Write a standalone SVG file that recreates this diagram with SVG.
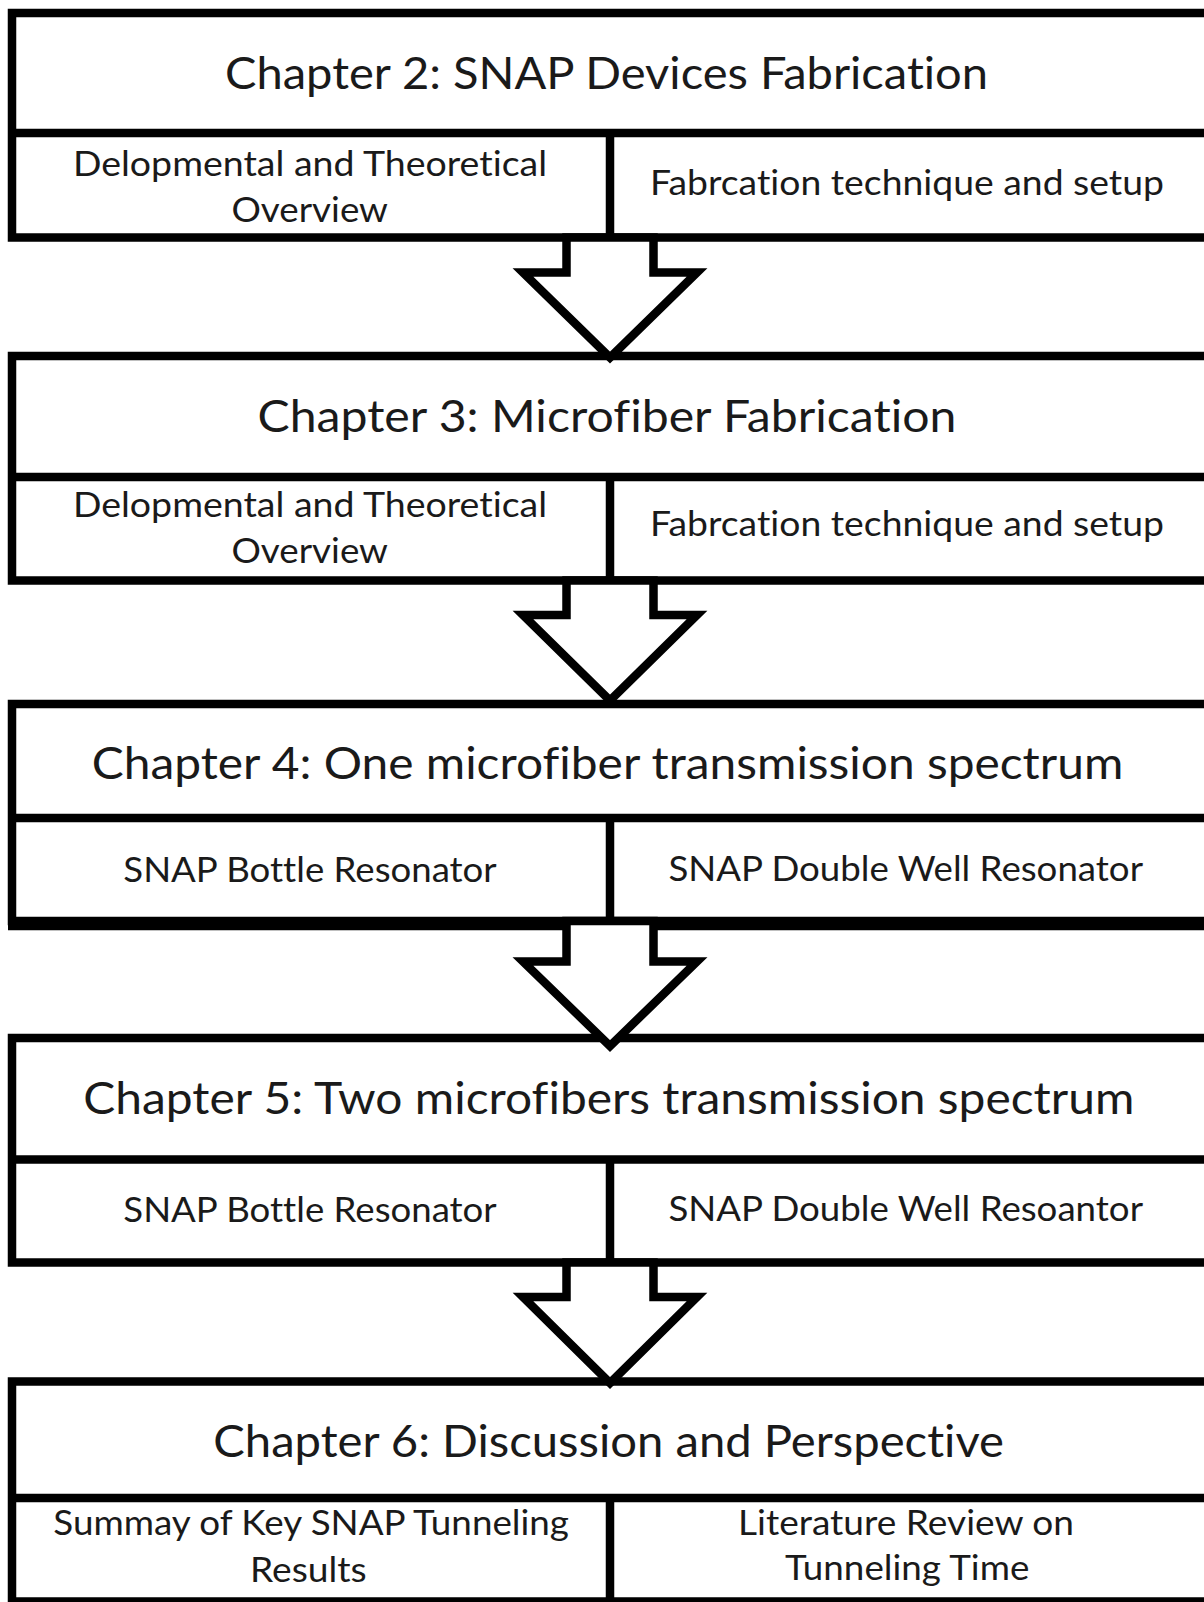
<svg xmlns="http://www.w3.org/2000/svg" width="1204" height="1602" viewBox="0 0 1204 1602">
  <style>
    .box { fill: #ffffff; stroke: #000000; stroke-width: 8.5; }
    .rule { stroke: #000000; stroke-width: 8.5; fill: none; }
    text { font-family: Lato, "Liberation Sans", sans-serif; font-variant-ligatures: none; fill: #1a1a1a; }
    .title { font-size: 45px; }
    .sub { font-size: 34px; }
    .arrow { fill: #ffffff; stroke: #000000; stroke-width: 8.5; stroke-linejoin: miter; stroke-miterlimit: 10; }
  </style>
  <rect width="1204" height="1602" fill="#ffffff"/>

  <!-- Chapter 2 -->
  <g id="chapter2">
    <rect class="box" x="12" y="13" width="1200" height="224.5"/>
    <line class="rule" x1="8" y1="133" x2="1212" y2="133"/>
    <line class="rule" x1="610" y1="133" x2="610" y2="237.5"/>
    <text class="title" x="225" y="88.5" textLength="763" lengthAdjust="spacingAndGlyphs">Chapter 2: SNAP Devices Fabrication</text>
    <text class="sub" x="73" y="175.7" textLength="474" lengthAdjust="spacingAndGlyphs">Delopmental and Theoretical</text>
    <text class="sub" x="231.5" y="221.7" textLength="156.5" lengthAdjust="spacingAndGlyphs">Overview</text>
    <text class="sub" x="650" y="195" textLength="514" lengthAdjust="spacingAndGlyphs">Fabrcation technique and setup</text>
  </g>

  <!-- Chapter 3 -->
  <g id="chapter3">
    <rect class="box" x="12" y="356" width="1200" height="224.5"/>
    <line class="rule" x1="8" y1="477" x2="1212" y2="477"/>
    <line class="rule" x1="610" y1="477" x2="610" y2="580.5"/>
    <text class="title" x="257.5" y="431.5" textLength="699" lengthAdjust="spacingAndGlyphs">Chapter 3: Microfiber Fabrication</text>
    <text class="sub" x="73" y="516.5" textLength="474" lengthAdjust="spacingAndGlyphs">Delopmental and Theoretical</text>
    <text class="sub" x="231.5" y="562.5" textLength="156.5" lengthAdjust="spacingAndGlyphs">Overview</text>
    <text class="sub" x="650" y="535.5" textLength="514" lengthAdjust="spacingAndGlyphs">Fabrcation technique and setup</text>
  </g>

  <!-- Chapter 4 (heavier bottom edge) -->
  <g id="chapter4">
    <rect class="box" x="12" y="704" width="1200" height="217"/>
    <line class="rule" x1="8" y1="926" x2="1212" y2="926"/>
    <line class="rule" x1="8" y1="818" x2="1212" y2="818"/>
    <line class="rule" x1="610" y1="818" x2="610" y2="921"/>
    <text class="title" x="91.7" y="779" textLength="1031.6" lengthAdjust="spacingAndGlyphs">Chapter 4: One microfiber transmission spectrum</text>
    <text class="sub" x="123.3" y="881.5" textLength="373.4" lengthAdjust="spacingAndGlyphs">SNAP Bottle Resonator</text>
    <text class="sub" x="668.4" y="880.5" textLength="474.6" lengthAdjust="spacingAndGlyphs">SNAP Double Well Resonator</text>
  </g>

  <!-- Chapter 5 -->
  <g id="chapter5">
    <rect class="box" x="12" y="1038" width="1200" height="224.5"/>
    <line class="rule" x1="8" y1="1159.5" x2="1212" y2="1159.5"/>
    <line class="rule" x1="610" y1="1159.5" x2="610" y2="1262.5"/>
    <text class="title" x="83.3" y="1113.5" textLength="1051" lengthAdjust="spacingAndGlyphs">Chapter 5: Two microfibers transmission spectrum</text>
    <text class="sub" x="123.3" y="1221.5" textLength="373.4" lengthAdjust="spacingAndGlyphs">SNAP Bottle Resonator</text>
    <text class="sub" x="668.4" y="1221" textLength="474.6" lengthAdjust="spacingAndGlyphs">SNAP Double Well Resoantor</text>
  </g>

  <!-- Chapter 6 -->
  <g id="chapter6">
    <rect class="box" x="12" y="1381.5" width="1200" height="220"/>
    <line class="rule" x1="8" y1="1498" x2="1212" y2="1498"/>
    <line class="rule" x1="610" y1="1498" x2="610" y2="1602"/>
    <text class="title" x="213.3" y="1456.5" textLength="790.7" lengthAdjust="spacingAndGlyphs">Chapter 6: Discussion and Perspective</text>
    <text class="sub" x="53.3" y="1535" textLength="515.7" lengthAdjust="spacingAndGlyphs">Summay of Key SNAP Tunneling</text>
    <text class="sub" x="250" y="1581.5" textLength="116.7" lengthAdjust="spacingAndGlyphs">Results</text>
    <text class="sub" x="738" y="1535" textLength="336" lengthAdjust="spacingAndGlyphs">Literature Review on</text>
    <text class="sub" x="785" y="1580" textLength="244.3" lengthAdjust="spacingAndGlyphs">Tunneling Time</text>
  </g>

  <!-- Block arrows between chapters -->
  <g id="connectors">
    <polygon class="arrow" points="566.5,237.5 566.5,272.5 523,272.5 610,357.5 697,272.5 653.5,272.5 653.5,237.5"/>
    <polygon class="arrow" points="566.5,580.5 566.5,615 523,615 610,700.5 697,615 653.5,615 653.5,580.5"/>
    <polygon class="arrow" points="566.5,921 566.5,961.5 523,961.5 610,1046 697,961.5 653.5,961.5 653.5,921"/>
    <polygon class="arrow" points="566.5,1262.5 566.5,1297 523,1297 610,1383 697,1297 653.5,1297 653.5,1262.5"/>
  </g>
</svg>
